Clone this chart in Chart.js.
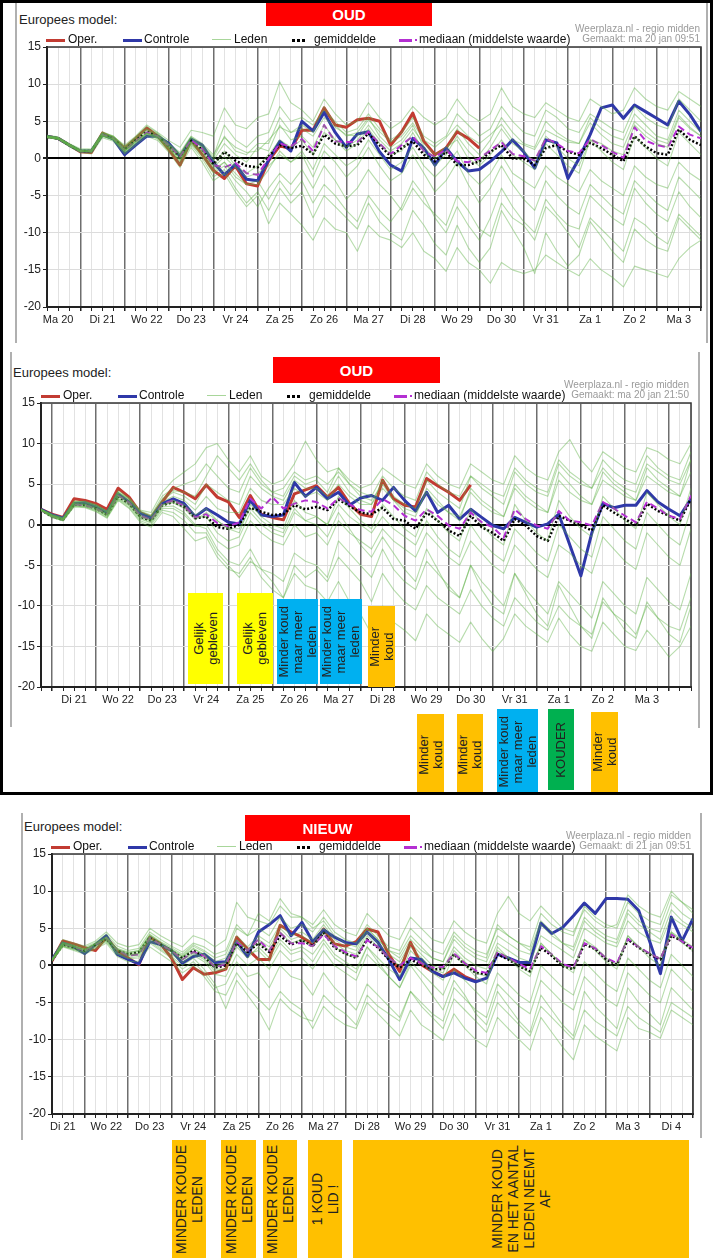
<!DOCTYPE html>
<html>
<head>
<meta charset="utf-8">
<script src="https://cdn.jsdelivr.net/npm/chart.js"></script>
<style>
  body { margin: 0; background: #fff; font-family: Arial, "Liberation Sans", sans-serif; }
  #page { position: relative; width: 716px; height: 1258px; overflow: hidden; background: #fff; }
  .abs { position: absolute; white-space: nowrap; }
  .vline { position: absolute; width: 2px; background: #b0b0b0; }
  .redbox { position: absolute; background: #ff0000; color: #fff; font-weight: bold; font-size: 15px;
            display: flex; align-items: center; justify-content: center; }
  .note { position: absolute; display: flex; align-items: center; justify-content: center; z-index: 5; }
  .note div { writing-mode: vertical-rl; transform: rotate(180deg); text-align: center;
              font-size: 13px; line-height: 14px; color: #222; white-space: nowrap; }
  .note.big div { font-size: 14px; line-height: 16px; }
  #frame { position: absolute; left: 0; top: 0; width: 707px; height: 789px; border: 3px solid #000; z-index: 10; }
</style>
</head>
<body>
<div id="page"><div id="frame"></div></div>
<script>
// ---- chart 1: OUD, ma 20 jan 09:51 (6-hourly, first value Ma 20 06:00) ----
const days1 = ['Ma 20','Di 21','Wo 22','Do 23','Vr 24','Za 25','Zo 26','Ma 27','Di 28','Wo 29','Do 30','Vr 31','Za 1','Zo 2','Ma 3'];
const oper1 = [3.0, 2.7, 1.8, 0.9, 0.8, 3.4, 2.7, 1.4, 2.7, 4.1, 3.0, 1.2, -0.9, 2.5, 0.5, -1.6, -2.7, -1.0, -3.4, -3.7, -0.3, 1.7, 1.3, 3.8, 3.8, 6.8, 4.5, 4.2, 5.2, 5.4, 5.0, 1.8, 3.6, 6.1, 2.3, 0.5, 1.4, 3.6, 2.7, 1.4];
const ctrl1 = [3.0, 2.7, 1.8, 1.0, 1.0, 3.2, 2.6, 0.5, 1.8, 3.0, 3.0, 2.0, 0.3, 2.6, 1.8, -0.5, -2.2, -0.8, -2.8, -3.0, -0.2, 2.3, 1.0, 5.0, 3.7, 6.2, 3.5, 1.5, 3.3, 3.6, 0.9, -0.9, -1.7, 2.7, 1.4, -0.9, 1.4, -0.4, -1.7, -1.5, -0.4, 0.9, 2.5, 0.9, -1.3, 2.5, 2.1, -2.7, 0.0, 3.2, 6.8, 7.2, 5.4, 7.2, 6.3, 5.4, 4.5, 7.7, 5.9, 3.6];
const mean1 = [2.9, 2.7, 1.8, 1.0, 1.0, 3.2, 2.7, 1.2, 2.5, 3.6, 3.0, 1.6, 0.2, 2.4, 1.2, -0.8, 0.9, -0.3, -1.0, -1.2, 0.3, 1.8, 1.4, 1.7, 0.6, 3.2, 2.0, 1.6, 1.8, 3.4, 1.8, 0.3, 1.4, 2.3, 0.5, -0.4, 0.9, -0.9, -0.9, -0.4, 0.9, 1.8, 0.0, 0.0, -0.9, 1.4, 1.8, 0.9, 0.5, 2.1, 1.4, 0.5, -0.4, 3.0, 1.6, 0.7, 0.5, 3.9, 2.5, 1.8];
const median1 = [2.9, 2.7, 1.8, 1.0, 1.0, 3.2, 2.7, 1.1, 2.3, 3.5, 3.0, 1.7, 0.3, 2.5, 1.3, -0.9, -1.2, -0.6, -2.0, -2.2, 0.0, 2.0, 1.6, 2.6, 1.0, 4.5, 2.3, 2.2, 2.2, 3.6, 2.0, 0.6, 1.8, 3.0, 1.0, 0.2, 1.2, -0.4, -0.5, 0.0, 1.1, 2.2, 0.6, 0.3, -0.3, 2.7, 2.0, 1.0, 0.7, 2.6, 1.8, 0.9, 0.1, 4.2, 2.4, 1.8, 1.5, 4.3, 3.2, 2.7];
const m1a = [3.1, 2.9, 2.0, 1.3, 1.2, 3.6, 3.0, 1.6, 2.9, 4.3, 3.4, 2.0, 0.8, 3.0, 2.0, 0.5, 2.8, 1.5, 0.8, 1.0, 2.5, 4.2, 3.5, 4.0, 3.0, 5.5, 4.2, 3.2, 3.0, 5.2, 3.6, 2.2, 3.0, 4.8, 2.5, 1.5, 2.8, 4.5, 3.0, 2.0, 3.2, 4.6, 2.5, 1.8, 1.2, 3.8, 3.0, 2.2, 2.0, 4.8, 3.2, 2.0, 1.5, 5.0, 3.6, 2.5, 2.0, 5.8, 4.2, 3.0];
const m1b = [2.8, 2.6, 1.7, 1.0, 1.1, 3.4, 2.9, 1.8, 3.0, 4.5, 3.5, 2.4, 1.5, 3.8, 3.5, 3.0, 6.8, 4.5, 4.0, 5.5, 6.0, 10.3, 7.5, 6.5, 5.0, 8.0, 6.0, 4.5, 5.0, 7.5, 5.5, 4.0, 5.0, 7.0, 5.5, 4.5, 5.5, 8.0, 6.0, 5.0, 6.0, 9.5, 7.0, 6.0, 5.5, 7.5, 6.5, 5.5, 5.0, 8.0, 7.0, 6.0, 6.5, 9.5, 8.0, 7.0, 6.5, 9.0, 8.0, 7.0];
const m1c = [2.9, 2.6, 1.6, 0.8, 0.6, 2.8, 2.3, 0.6, 1.8, 3.0, 2.4, 0.8, -1.2, 1.5, -0.5, -3.0, -2.0, -4.5, -6.5, -5.0, -8.8, -6.0, -7.5, -9.0, -11.0, -8.0, -9.5, -10.0, -12.5, -9.0, -10.5, -11.0, -12.0, -10.0, -12.5, -13.5, -15.2, -12.0, -14.0, -15.0, -16.8, -14.0, -15.0, -15.5, -15.0, -13.0, -14.0, -15.0, -15.8, -13.5, -15.0, -16.0, -17.3, -14.5, -15.0, -15.5, -16.0, -13.5, -12.0, -11.0];
const m1d = [3.0, 2.8, 1.9, 1.1, 0.9, 3.0, 2.5, 0.9, 2.1, 3.3, 2.8, 1.3, -0.5, 2.0, 0.3, -2.0, -1.0, -3.0, -4.5, -6.5, -4.0, -2.0, -3.5, -1.5, -4.0, -1.0, -3.0, -5.5, -4.0, -1.5, -3.5, -5.0, -7.0, -4.0, -6.0, -7.5, -9.0, -5.0, -7.0, -9.5, -10.5, -6.0, -8.0, -9.0, -11.0, -6.5, -8.0, -10.0, -12.0, -8.0, -9.5, -11.0, -12.5, -8.0, -9.0, -10.5, -11.5, -7.5, -9.0, -10.5];
const m1e = [2.8, 2.6, 1.7, 0.9, 0.9, 3.1, 2.6, 1.0, 2.3, 3.4, 2.9, 1.5, 0.0, 2.2, 1.0, -1.2, 0.2, -1.2, -2.5, -2.0, -1.0, 0.5, -0.5, 1.0, -1.5, 2.0, 0.5, -1.0, 0.0, 2.5, 0.5, -1.5, -0.5, 1.5, -1.0, -2.5, -1.0, 1.0, -2.0, -3.5, -2.0, 0.5, -2.0, -3.0, -4.0, -1.0, -2.5, -3.5, -4.5, -1.5, -3.0, -4.0, -5.0, -1.0, -2.5, -3.5, -4.0, -0.5, -2.0, -3.0];
const m1f = [2.9, 2.8, 1.9, 1.2, 1.3, 3.5, 3.0, 1.5, 2.8, 4.0, 3.3, 1.9, 0.6, 2.9, 1.8, 0.2, 4.5, 2.5, 1.5, 3.0, 3.5, 7.0, 5.0, 5.5, 4.5, 6.5, 5.0, 3.5, 4.0, 6.0, 4.0, 2.5, 3.5, 5.5, 3.0, 2.0, 3.0, 6.0, 4.5, 3.0, 4.0, 7.0, 5.0, 3.5, 3.0, 6.5, 5.5, 4.0, 3.5, 6.0, 5.0, 4.0, 3.5, 7.0, 5.5, 4.5, 4.0, 8.0, 6.5, 5.0];
const m1g = [3.0, 2.7, 1.8, 1.0, 0.8, 3.0, 2.6, 1.0, 2.2, 3.2, 2.7, 1.2, -0.3, 2.0, 0.5, -1.8, -0.5, -2.5, -3.5, -3.0, -5.5, -3.0, -5.0, -3.0, -6.0, -3.5, -5.0, -7.0, -8.5, -5.0, -7.0, -8.5, -6.5, -3.0, -5.0, -8.0, -10.0, -6.5, -9.0, -11.0, -8.0, -4.0, -6.5, -8.5, -10.0, -5.5, -7.5, -9.0, -9.5, -5.0, -6.5, -8.0, -9.0, -4.0, -6.0, -7.5, -8.5, -4.5, -6.5, -8.0];
const m1h = [2.9, 2.7, 1.8, 1.0, 1.0, 3.3, 2.8, 1.3, 2.6, 3.8, 3.1, 1.7, 0.4, 2.7, 1.5, -0.3, 2.0, 0.5, -0.5, 1.5, 1.0, 4.5, 2.5, 3.0, 1.5, 4.5, 2.5, 1.0, 2.0, 4.0, 2.0, 0.5, 1.0, 3.5, 1.0, -1.0, 0.5, 3.0, 1.0, -0.5, 1.5, 4.0, 2.0, 1.0, -0.5, 3.0, 1.5, 0.0, -1.0, 2.5, 1.0, -0.5, -1.5, 3.0, 1.5, 0.0, -1.0, 3.5, 2.0, 0.5];
const m1i = [3.0, 2.8, 1.9, 1.1, 1.0, 3.1, 2.5, 0.8, 2.0, 3.3, 2.6, 1.0, -0.8, 1.8, 0.0, -2.5, -1.5, -4.0, -6.0, -4.5, -7.0, -4.0, -6.0, -4.5, -8.0, -5.0, -6.5, -8.0, -9.5, -6.0, -8.5, -10.0, -11.0, -7.0, -9.0, -11.5, -13.0, -9.0, -12.0, -14.0, -12.0, -7.0, -9.5, -12.0, -15.5, -10.0, -12.5, -14.5, -13.0, -8.5, -10.5, -12.5, -14.0, -9.5, -11.0, -12.0, -12.5, -8.0, -9.5, -11.0];
const m1j = [2.8, 2.6, 1.7, 0.9, 1.0, 3.2, 2.7, 1.2, 2.4, 3.5, 3.0, 1.5, 0.1, 2.3, 1.1, -1.0, 1.0, -1.0, -2.0, -1.0, 0.5, 2.5, 1.5, 2.5, 0.5, 3.5, 2.5, 1.5, 2.5, 4.5, 2.5, 1.0, 2.0, 4.0, 2.0, 0.5, 1.5, 2.5, 0.0, -1.0, 0.5, 2.5, 0.5, -0.5, -1.5, 2.0, 0.5, -1.0, -2.0, 2.5, 2.0, 1.0, 0.5, 4.5, 3.0, 2.0, 1.5, 5.5, 4.0, 3.0];
const m1k = [3.0, 2.7, 1.8, 1.0, 0.9, 3.1, 2.6, 1.1, 2.3, 3.4, 2.9, 1.4, -0.2, 2.1, 0.8, -1.5, -0.5, -2.0, -3.5, -3.5, -1.5, 1.0, -0.5, 0.5, -2.5, 1.0, -0.5, -2.5, -1.0, 1.5, -1.0, -3.0, -2.0, 0.5, -2.0, -4.5, -3.0, -0.5, -3.5, -6.0, -4.0, -1.0, -3.5, -5.5, -7.0, -3.0, -5.0, -6.5, -7.5, -3.5, -5.0, -6.5, -7.5, -3.0, -4.5, -6.0, -7.0, -2.5, -4.0, -5.5];
const m1l = [2.9, 2.8, 1.9, 1.1, 1.1, 3.4, 2.9, 1.4, 2.7, 3.9, 3.2, 1.8, 0.5, 2.8, 1.6, 0.0, 3.0, 1.0, 0.5, 2.0, 2.0, 5.5, 3.5, 4.5, 3.5, 7.0, 4.5, 3.0, 3.5, 5.5, 3.0, 1.5, 2.5, 4.5, 1.5, 0.0, 1.0, 4.0, 2.0, 0.5, 2.5, 5.5, 3.5, 2.0, 1.5, 5.0, 3.5, 2.5, 2.0, 5.5, 4.0, 3.0, 2.5, 6.0, 4.5, 3.0, 2.5, 6.5, 5.0, 3.5];

// ---- chart 2: OUD, ma 20 jan 21:50 (first value Ma 20 18:00) ----
const days2 = ['Di 21','Wo 22','Do 23','Vr 24','Za 25','Zo 26','Ma 27','Di 28','Wo 29','Do 30','Vr 31','Za 1','Zo 2','Ma 3'];
const oper2 = [1.9, 1.3, 0.9, 3.2, 3.0, 2.6, 1.9, 4.5, 3.4, 1.5, 0.9, 2.8, 4.6, 4.0, 3.2, 4.9, 3.4, 2.8, 0.9, 3.6, 1.3, 0.9, 0.6, 3.8, 4.3, 4.8, 3.4, 4.6, 2.6, 1.3, 1.0, 5.5, 3.2, 2.4, 2.2, 5.7, 4.8, 4.0, 3.0, 4.9];
const ctrl2 = [1.9, 1.2, 0.8, 2.6, 2.7, 2.2, 1.5, 3.8, 2.8, 1.4, 0.8, 2.6, 3.2, 2.6, 1.0, 2.0, 1.2, 0.3, 0.1, 3.0, 1.2, 1.0, 1.2, 5.2, 3.5, 4.6, 3.2, 4.0, 2.4, 3.3, 3.6, 3.0, 4.6, 3.0, 1.7, 4.0, 1.5, 2.4, 0.7, 1.9, 0.9, -0.1, -0.5, 0.9, 0.3, -0.3, 0.1, 1.3, -2.5, -6.3, -1.0, 2.6, 2.1, 2.4, 2.4, 4.2, 2.8, 1.9, 1.1, 3.2];
const mean2 = [1.8, 1.0, 0.6, 2.5, 2.4, 2.0, 1.2, 3.5, 2.6, 1.0, 0.5, 2.4, 2.8, 2.2, 0.8, 1.0, -0.3, -0.5, 0.0, 2.1, 1.6, 1.2, 1.3, 2.4, 1.9, 2.2, 1.8, 3.1, 2.3, 1.5, 1.3, 2.1, 0.7, 0.5, -0.5, 1.5, 0.5, -0.7, -1.4, 1.1, -0.3, -1.0, -2.0, 0.7, -0.1, -1.4, -2.0, 1.1, 0.5, -0.1, -0.7, 2.4, 1.5, 0.7, -0.1, 2.6, 1.7, 1.1, 0.5, 3.2];
const median2 = [1.8, 1.0, 0.6, 2.5, 2.4, 2.0, 1.3, 3.6, 2.7, 1.1, 0.6, 2.5, 3.0, 2.3, 0.9, 1.3, 0.2, -0.2, 0.3, 3.2, 2.0, 3.4, 2.0, 2.6, 3.0, 2.8, 2.0, 3.3, 2.5, 1.8, 1.6, 3.2, 2.4, 1.1, 0.5, 1.9, 1.1, -0.1, -0.5, 1.5, 0.3, -0.3, -1.6, 1.9, 0.7, -0.1, -0.5, 1.7, 0.5, 0.3, -0.1, 2.8, 2.0, 1.1, 0.3, 2.8, 2.0, 1.1, 0.7, 3.6];
const m2a = [1.9, 1.2, 0.8, 2.8, 2.8, 2.4, 1.6, 4.0, 3.2, 1.8, 1.5, 4.0, 5.5, 6.5, 7.5, 9.5, 10.0, 8.0, 6.5, 8.5, 6.0, 5.0, 5.5, 7.5, 10.3, 8.0, 6.5, 7.0, 5.5, 4.5, 5.0, 7.0, 6.0, 5.0, 4.5, 7.5, 6.0, 5.0, 4.5, 7.5, 6.5, 5.5, 5.0, 8.5, 7.0, 6.0, 5.5, 9.0, 10.5, 8.0, 6.5, 9.0, 8.0, 7.0, 6.5, 9.5, 9.0, 8.0, 7.5, 10.0];
const m2b = [1.8, 0.9, 0.5, 2.2, 2.1, 1.6, 0.8, 3.0, 2.0, 0.3, -0.3, 1.5, 1.0, -0.5, -2.0, -1.5, -4.0, -5.5, -6.0, -4.0, -6.5, -8.0, -9.0, -6.0, -7.5, -8.0, -9.5, -7.0, -9.5, -11.0, -13.5, -10.0, -12.0, -13.0, -14.3, -11.0, -12.5, -13.5, -14.5, -12.0, -14.0, -15.6, -14.0, -11.0, -12.5, -13.5, -14.5, -11.5, -13.5, -15.0, -15.6, -12.0, -13.5, -15.0, -15.5, -13.0, -14.5, -16.3, -15.0, -12.5];
const m2c = [1.9, 1.1, 0.7, 2.7, 2.6, 2.2, 1.4, 3.8, 2.9, 1.3, 0.8, 2.8, 3.5, 3.0, 1.8, 3.5, 2.0, 1.5, 1.5, 4.5, 3.0, 2.5, 2.5, 4.5, 3.5, 4.0, 3.0, 5.0, 3.5, 2.5, 2.5, 4.5, 3.0, 2.0, 1.5, 4.0, 2.5, 1.5, 1.0, 4.0, 2.5, 1.5, 1.0, 4.5, 3.0, 2.0, 1.5, 5.5, 4.0, 3.0, 2.5, 5.5, 4.5, 3.5, 3.0, 6.0, 5.0, 4.0, 3.5, 6.5];
const m2d = [1.7, 0.9, 0.5, 2.3, 2.2, 1.8, 1.0, 3.2, 2.3, 0.7, 0.2, 2.0, 2.0, 1.2, -0.2, 0.0, -2.0, -3.0, -2.5, 0.5, -1.0, -2.0, -2.5, 0.0, -1.5, -1.0, -2.5, 0.5, -1.0, -2.0, -3.0, -0.5, -2.0, -3.0, -4.0, -1.0, -2.5, -4.0, -5.0, -2.0, -3.5, -5.0, -6.0, -2.5, -4.0, -5.5, -6.5, -2.5, -3.5, -5.0, -6.0, -1.5, -3.0, -4.5, -5.5, -1.0, -2.5, -4.0, -5.0, -0.5];
const m2e = [1.9, 1.2, 0.8, 2.9, 2.9, 2.5, 1.7, 4.2, 3.3, 1.7, 1.2, 3.5, 4.5, 5.0, 5.5, 7.5, 6.0, 4.5, 4.0, 7.0, 5.0, 4.0, 4.5, 6.5, 5.5, 6.0, 5.0, 6.5, 5.0, 4.0, 3.5, 6.0, 4.5, 3.5, 3.0, 6.5, 5.0, 4.0, 3.5, 6.0, 4.5, 3.5, 2.5, 6.5, 5.0, 4.0, 3.5, 7.5, 6.0, 5.0, 4.5, 8.0, 6.5, 5.5, 5.0, 8.5, 7.0, 6.0, 5.5, 9.0];
const m2f = [1.8, 1.0, 0.6, 2.4, 2.3, 1.9, 1.1, 3.3, 2.4, 0.8, 0.3, 2.2, 2.3, 1.5, 0.0, -0.5, -3.0, -4.5, -5.0, -3.0, -5.5, -7.0, -9.0, -5.0, -6.5, -5.5, -7.0, -4.0, -5.5, -7.0, -9.5, -6.0, -8.0, -9.5, -10.5, -7.5, -9.0, -10.0, -11.0, -8.0, -10.0, -11.5, -12.5, -9.0, -10.5, -12.0, -13.0, -10.0, -11.5, -12.5, -13.5, -9.5, -11.0, -12.0, -13.5, -10.0, -11.5, -12.5, -13.0, -9.0];
const m2g = [1.8, 1.1, 0.6, 2.6, 2.5, 2.0, 1.2, 3.6, 2.6, 1.0, 0.5, 2.4, 2.7, 2.0, 0.6, 1.5, 0.5, -0.5, -1.0, 2.5, 1.0, 0.0, -0.5, 3.0, 1.5, 1.0, 0.0, 3.5, 2.0, 0.5, -0.5, 2.5, 1.0, -0.5, -1.5, 2.0, 0.5, -1.0, -2.0, 2.0, 0.0, -1.5, -2.5, 2.5, 0.5, -1.0, -2.0, 3.0, 1.0, -0.5, -1.5, 3.5, 2.0, 0.5, -0.5, 4.0, 2.5, 1.0, 0.0, 4.5];
const m2h = [1.8, 1.0, 0.5, 2.3, 2.2, 1.7, 0.9, 3.1, 2.1, 0.5, 0.0, 1.8, 1.5, 0.5, -1.0, -1.0, -3.5, -5.0, -6.5, -4.5, -5.5, -6.0, -7.0, -3.5, -4.5, -5.0, -6.5, -2.0, -3.5, -5.0, -6.5, -3.0, -5.5, -7.0, -8.0, -4.5, -6.0, -7.5, -9.0, -5.0, -7.0, -8.5, -10.0, -6.0, -8.0, -9.5, -11.0, -7.0, -8.5, -10.0, -11.5, -7.0, -8.5, -10.0, -11.0, -6.5, -8.0, -9.5, -10.5, -6.0];
const m2i = [1.9, 1.2, 0.7, 2.7, 2.7, 2.3, 1.5, 3.9, 3.0, 1.5, 1.0, 3.0, 4.0, 3.5, 2.5, 5.0, 4.0, 3.0, 2.5, 6.0, 4.5, 3.5, 3.0, 5.5, 4.5, 4.5, 3.5, 6.0, 4.0, 3.0, 2.5, 5.5, 3.5, 2.5, 2.0, 5.5, 4.0, 3.0, 2.0, 6.0, 5.0, 4.0, 3.5, 7.0, 5.5, 4.5, 4.0, 8.0, 6.5, 5.5, 4.5, 7.0, 5.5, 4.5, 4.0, 7.5, 6.5, 5.5, 5.0, 8.0];
const m2j = [1.8, 1.0, 0.6, 2.5, 2.4, 2.0, 1.2, 3.5, 2.6, 1.0, 0.5, 2.4, 2.8, 2.2, 0.9, 1.0, -1.0, -2.0, -1.5, 1.5, 0.0, -1.0, -1.5, 1.5, 0.5, 1.0, 0.0, 2.5, 1.0, 0.0, -1.0, 1.0, -0.5, -1.5, -2.5, 0.5, -1.5, -3.0, -4.0, 0.0, -2.0, -3.5, -4.5, -0.5, -2.0, -3.5, -4.5, 0.0, -1.5, -3.0, -4.0, 1.0, -0.5, -2.0, -3.0, 1.5, 0.0, -1.5, -2.5, 2.0];
const m2k = [1.8, 1.1, 0.7, 2.6, 2.5, 2.1, 1.3, 3.6, 2.7, 1.1, 0.6, 2.5, 3.0, 2.5, 1.2, 2.0, 0.5, -0.5, -0.5, 2.0, 0.5, -0.5, -1.0, 2.0, 0.5, 0.0, -1.5, 1.5, -0.5, -2.5, -4.0, -1.5, -3.5, -5.5, -7.0, -3.0, -5.5, -8.0, -9.0, -5.0, -8.0, -10.0, -11.0, -6.0, -8.5, -11.0, -12.5, -7.5, -10.0, -12.5, -14.0, -9.0, -11.0, -13.0, -14.0, -9.5, -11.5, -13.5, -14.5, -10.0];
const m2l = [1.9, 1.3, 0.9, 2.9, 2.8, 2.3, 1.6, 4.0, 3.1, 1.6, 1.1, 3.2, 4.2, 4.0, 3.5, 6.0, 8.5, 7.0, 5.5, 7.5, 5.5, 4.0, 3.5, 6.0, 5.0, 5.5, 4.0, 7.0, 5.0, 3.5, 3.0, 5.0, 3.0, 1.5, 1.0, 4.5, 3.0, 1.5, 0.5, 4.5, 3.0, 2.0, 1.0, 5.0, 3.5, 2.5, 1.5, 6.5, 5.0, 3.5, 2.5, 6.5, 5.0, 4.0, 3.0, 7.0, 5.5, 4.5, 3.5, 8.0];

// ---- chart 3: NIEUW, di 21 jan 09:51 (first value Di 21 06:00) ----
const days3 = ['Di 21','Wo 22','Do 23','Vr 24','Za 25','Zo 26','Ma 27','Di 28','Wo 29','Do 30','Vr 31','Za 1','Zo 2','Ma 3','Di 4'];
const oper3 = [0.6, 3.3, 2.9, 2.4, 2.0, 3.8, 2.0, 1.0, 0.1, 3.8, 2.9, 1.0, -1.9, -0.3, -1.2, -1.0, -0.5, 3.8, 2.2, 0.8, 0.8, 5.4, 4.5, 3.8, 2.9, 4.9, 2.9, 2.6, 3.2, 4.9, 4.5, 1.5, -0.8, 3.1, 0.1, -0.8, -1.5, -0.5, -1.5, -2.1];
const ctrl3 = [0.8, 3.0, 2.5, 1.6, 2.8, 4.0, 1.5, 0.8, 0.2, 3.2, 2.8, 2.0, 0.3, 1.2, 1.5, 0.4, 0.5, 3.2, 1.2, 4.5, 5.5, 6.7, 4.0, 5.8, 3.2, 4.8, 3.8, 3.1, 2.9, 4.5, 3.1, 0.8, -1.9, 1.0, 0.8, -0.8, -1.5, -1.0, -1.7, -2.2, -1.7, 1.5, 1.0, 0.4, 0.4, 5.7, 4.3, 5.1, 6.7, 8.4, 7.0, 9.0, 9.0, 8.9, 7.4, 3.3, -1.1, 6.5, 3.3, 6.3];
const mean3 = [0.7, 2.8, 2.4, 2.0, 2.8, 3.6, 2.0, 1.5, 1.8, 3.8, 2.8, 2.0, 1.0, 2.0, 1.2, -0.3, 0.0, 3.0, 1.8, 3.0, 1.8, 4.0, 2.8, 3.4, 2.6, 4.4, 2.4, 1.6, 1.0, 3.5, 2.4, 0.8, -0.3, 0.8, 0.1, -0.5, -0.5, 1.5, 0.1, -1.0, -1.2, 1.5, 0.8, -0.1, -0.8, 2.4, 1.3, -0.1, -0.5, 2.9, 2.2, 0.8, 0.1, 3.5, 2.4, 1.5, 0.8, 4.0, 3.3, 2.0];
const median3 = [0.7, 2.9, 2.5, 2.0, 2.8, 3.7, 2.1, 1.3, 1.5, 3.7, 2.8, 2.0, 0.8, 1.8, 1.3, -0.2, 0.2, 3.2, 2.0, 3.5, 2.0, 4.4, 3.0, 3.0, 2.6, 4.2, 2.6, 1.8, 1.2, 3.4, 2.5, 1.0, 0.0, 1.0, 0.3, -0.3, -0.2, 1.6, 0.3, -0.7, -1.0, 1.8, 1.0, 0.2, -0.5, 2.6, 1.5, 0.2, -0.3, 3.0, 2.3, 1.0, 0.3, 3.6, 2.5, 1.6, 0.9, 4.2, 3.2, 2.4];
const m3a = [0.8, 3.5, 3.0, 2.6, 3.3, 4.5, 3.0, 2.5, 2.8, 5.0, 4.0, 3.2, 2.5, 4.0, 3.5, 2.5, 3.5, 8.5, 6.5, 6.0, 5.5, 8.0, 6.5, 6.5, 5.5, 7.5, 5.5, 4.5, 4.0, 7.0, 5.5, 4.0, 3.5, 6.5, 5.0, 3.5, 3.0, 6.0, 4.5, 3.5, 3.0, 7.0, 9.3, 7.0, 6.0, 8.0, 6.5, 5.0, 4.5, 7.5, 6.0, 5.0, 5.5, 9.5, 8.0, 7.0, 6.5, 10.0, 8.5, 7.5];
const m3b = [0.6, 2.5, 2.0, 1.5, 2.2, 3.0, 1.2, 0.5, 0.6, 2.5, 1.5, 0.5, -1.0, 0.0, -1.5, -3.5, -4.0, -1.0, -3.0, -4.5, -6.0, -3.5, -5.0, -6.0, -8.5, -5.5, -7.0, -8.0, -8.5, -5.0, -6.5, -8.0, -9.5, -6.0, -8.0, -9.0, -10.1, -6.5, -8.5, -10.0, -11.0, -7.0, -8.5, -10.0, -11.4, -7.0, -9.0, -11.0, -12.7, -8.0, -9.5, -10.5, -11.5, -7.0, -8.5, -9.0, -9.8, -6.0, -7.0, -8.0];
const m3c = [0.7, 2.9, 2.5, 2.1, 2.9, 3.8, 2.2, 1.6, 1.9, 4.0, 3.0, 2.1, 1.2, 2.3, 1.5, 0.0, 0.5, 3.5, 2.0, 3.0, 2.0, 4.5, 3.0, 3.5, 2.5, 4.5, 2.5, 1.5, 1.0, 4.0, 2.5, 1.0, 0.0, 2.5, 1.0, -0.5, -1.0, 2.0, 0.5, -1.0, -1.5, 2.0, 1.0, 0.0, -1.0, 3.0, 1.5, 0.0, -0.5, 3.5, 2.5, 1.0, 0.0, 4.0, 2.5, 1.5, 1.0, 4.5, 3.5, 2.5];
const m3d = [0.7, 2.6, 2.2, 1.8, 2.5, 3.3, 1.6, 1.0, 1.2, 3.2, 2.2, 1.2, 0.0, 1.0, -0.5, -2.5, -5.8, -2.0, -4.0, -6.0, -8.7, -4.5, -6.0, -7.0, -7.5, -4.0, -5.5, -6.5, -8.0, -4.0, -5.5, -6.5, -7.5, -3.5, -5.0, -6.5, -7.5, -3.0, -4.5, -6.0, -7.0, -2.5, -4.0, -5.5, -6.5, -2.0, -3.5, -5.0, -6.0, -1.5, -3.0, -4.5, -5.5, -1.0, -2.5, -4.0, -5.0, -0.5, -2.0, -3.5];
const m3e = [0.8, 3.2, 2.8, 2.4, 3.1, 4.2, 2.6, 2.0, 2.3, 4.5, 3.5, 2.6, 1.8, 3.0, 2.5, 1.5, 2.0, 5.5, 4.0, 5.0, 4.0, 6.5, 5.0, 5.5, 4.5, 6.5, 4.5, 3.5, 3.0, 5.5, 4.0, 2.5, 2.0, 5.0, 3.5, 2.0, 1.5, 4.5, 3.0, 2.0, 1.5, 5.0, 4.0, 3.0, 2.0, 6.0, 4.5, 3.0, 2.5, 6.5, 5.0, 4.0, 3.5, 7.5, 6.0, 5.0, 4.5, 8.5, 7.0, 6.0];
const m3f = [0.6, 2.7, 2.2, 1.8, 2.6, 3.4, 1.7, 1.2, 1.4, 3.4, 2.4, 1.5, 0.4, 1.4, 0.5, -1.2, -1.5, 1.5, 0.0, 1.0, -0.5, 2.0, 0.5, 1.0, -0.5, 2.0, 0.0, -1.0, -2.0, 1.5, 0.0, -1.5, -3.0, 0.5, -1.0, -2.5, -4.0, -0.5, -2.0, -3.5, -5.0, -1.0, -2.5, -4.0, -5.0, 0.0, -1.5, -3.0, -4.0, 0.5, -1.0, -2.5, -3.5, 1.0, -0.5, -2.0, -3.0, 1.5, 0.0, -1.5];
const m3g = [0.7, 3.0, 2.6, 2.2, 3.0, 3.9, 2.3, 1.8, 2.0, 4.2, 3.2, 2.4, 1.5, 2.8, 2.0, 1.0, 1.5, 5.0, 4.0, 7.0, 6.0, 9.0, 7.0, 6.5, 5.0, 6.0, 4.0, 3.0, 2.5, 5.0, 3.5, 2.0, 1.5, 4.0, 2.5, 1.0, 0.5, 3.5, 2.0, 1.0, 0.5, 4.0, 3.0, 2.0, 1.5, 5.5, 4.0, 3.0, 2.0, 6.0, 4.5, 3.5, 3.0, 7.0, 5.5, 4.5, 3.5, 7.5, 6.0, 5.0];
const m3h = [0.7, 2.8, 2.4, 2.0, 2.7, 3.6, 2.0, 1.4, 1.6, 3.6, 2.7, 1.8, 0.8, 1.8, 1.0, -0.5, -0.5, 2.5, 1.0, 2.5, 1.0, 3.5, 2.0, 2.5, 1.5, 3.5, 1.5, 0.5, -0.5, 2.5, 0.5, -1.5, -3.0, 0.0, -2.0, -4.0, -6.0, -2.0, -4.0, -6.5, -8.0, -3.5, -5.5, -7.5, -9.0, -4.0, -6.0, -8.0, -9.5, -3.5, -5.5, -7.0, -8.5, -3.0, -5.0, -6.5, -8.0, -3.0, -4.5, -6.0];
const m3i = [0.8, 3.1, 2.7, 2.2, 2.9, 3.7, 2.1, 1.5, 1.7, 3.9, 2.9, 2.0, 1.1, 2.2, 1.4, -0.2, 0.3, 3.3, 2.2, 3.5, 2.5, 5.0, 3.5, 4.0, 3.0, 5.0, 3.0, 2.0, 1.5, 4.5, 3.0, 1.5, 0.5, 3.0, 1.5, 0.0, -0.5, 2.5, 1.0, 0.0, -0.5, 3.0, 2.0, 1.0, 0.5, 4.0, 3.0, 2.0, 1.0, 5.0, 4.0, 3.0, 2.5, 6.0, 4.5, 3.5, 3.0, 6.5, 5.5, 4.5];
const m3j = [0.6, 2.6, 2.1, 1.7, 2.4, 3.2, 1.5, 0.9, 1.0, 3.0, 2.0, 1.0, -0.5, 0.5, -1.0, -3.0, -2.5, 0.5, -1.5, -1.0, -3.0, 0.0, -1.5, -2.0, -4.0, -1.0, -3.0, -4.5, -6.0, -2.5, -4.0, -5.5, -7.0, -3.5, -5.5, -7.0, -8.5, -4.5, -6.0, -7.5, -9.0, -5.0, -6.5, -8.0, -9.5, -5.5, -7.0, -8.5, -10.0, -6.0, -7.5, -8.5, -9.5, -5.5, -7.0, -8.0, -9.0, -5.0, -6.0, -7.0];
const m3k = [0.7, 2.9, 2.5, 2.0, 2.8, 3.6, 1.9, 1.3, 1.6, 3.7, 2.7, 1.8, 0.7, 1.6, 0.8, -0.8, -0.5, 2.8, 1.5, 2.0, 0.5, 3.0, 1.5, 2.0, 0.5, 3.0, 1.0, 0.0, -1.0, 2.5, 1.0, -0.5, -1.5, 2.0, 0.5, -1.0, -2.0, 1.5, 0.0, -1.5, -2.5, 2.5, 1.0, -0.5, -1.5, 3.0, 1.5, 0.0, -1.0, 3.5, 2.0, 0.5, -0.5, 4.0, 2.5, 1.0, 0.0, 4.5, 3.0, 2.0];
const m3l = [0.8, 3.0, 2.6, 2.1, 2.9, 3.8, 2.2, 1.7, 2.0, 4.1, 3.1, 2.2, 1.3, 2.6, 1.8, 0.5, 1.0, 4.0, 2.5, 4.0, 3.0, 5.5, 4.0, 4.5, 3.5, 5.5, 3.5, 2.5, 2.0, 5.0, 3.5, 2.0, 1.0, 3.5, 2.0, 1.0, 0.5, 4.0, 2.5, 1.5, 1.0, 5.5, 4.0, 3.0, 2.5, 7.0, 5.5, 4.5, 4.0, 8.0, 6.5, 5.5, 5.0, 8.5, 7.0, 6.0, 5.5, 9.5, 8.5, 7.0];

const page = document.getElementById('page');

// top and right edge of the plot box
const plotFrame = {
  id: 'plotFrame',
  beforeDatasetsDraw(chart) {
    const a = chart.chartArea, g = chart.ctx;
    g.save();
    g.strokeStyle = '#333';
    g.lineWidth = 1.5;
    g.beginPath();
    g.moveTo(a.left, a.top);
    g.lineTo(a.right, a.top);
    g.lineTo(a.right, a.bottom);
    g.stroke();
    g.restore();
  }
};

function addDiv(cls, css, html) {
  const d = document.createElement('div');
  d.className = cls;
  d.style.cssText = css;
  if (html !== undefined) d.innerHTML = html;
  page.appendChild(d);
  return d;
}

function makeChart(c) {
  const a = c.area;
  const cv = document.createElement('canvas');
  cv.width = a.r - a.l + 58;
  cv.height = a.b - a.t + 38;
  cv.style.cssText = `position:absolute;left:${a.l - 50}px;top:${a.t - 12}px;`;
  page.appendChild(cv);

  const pts = arr => arr.map((v, i) => ({ x: i, y: v }));
  const sets = c.members.map(m => ({ data: pts(m), borderColor: 'rgba(96,178,72,0.45)', borderWidth: 1.1 }));
  sets.push({ data: pts(c.median), borderColor: '#B42FD2', borderWidth: 2, borderDash: [7, 4] });
  sets.push({ data: pts(c.mean), borderColor: '#000', borderWidth: 2.5, borderDash: [2, 2] });
  sets.push({ data: pts(c.ctrl), borderColor: '#2F38A8', borderWidth: 3 });
  sets.push({ data: pts(c.oper), borderColor: '#C23B32', borderWidth: 3 });

  const midnight = v => ((v - c.midnight) % 4 + 4) % 4 === 0;

  new Chart(cv, {
    type: 'line',
    data: { datasets: sets },
    plugins: [plotFrame],
    options: {
      responsive: false,
      animation: false,
      elements: { line: { tension: 0, borderJoinStyle: 'round' }, point: { radius: 0 } },
      plugins: { legend: { display: false }, tooltip: { enabled: false } },
      layout: { padding: { top: 12, right: 8, left: 0, bottom: 0 } },
      scales: {
        x: {
          type: 'linear', min: 0, max: 59,
          afterFit: s => { s.height = 26; },
          afterBuildTicks: s => { s.ticks = Array.from({ length: 60 }, (_, i) => ({ value: i })); },
          ticks: {
            autoSkip: false, maxRotation: 0, padding: 2, color: '#222',
            font: { size: 11, family: 'Arial' },
            callback: v => (v >= c.noon && (v - c.noon) % 4 === 0) ? (c.days[(v - c.noon) / 4] || '') : ''
          },
          grid: {
            color: ctx => midnight(ctx.tick.value) ? '#6e6e6e' : '#e2e2e2',
            lineWidth: ctx => midnight(ctx.tick.value) ? 1.5 : 1,
            tickLength: 4, tickColor: '#222'
          },
          border: { color: '#222', width: 2 }
        },
        y: {
          min: -20, max: 15,
          afterFit: s => { s.width = 50; },
          ticks: { stepSize: 5, padding: 2, color: '#222', font: { size: 12, family: 'Arial' } },
          grid: {
            color: ctx => ctx.tick.value === 0 ? '#000' : '#dcdcdc',
            lineWidth: ctx => ctx.tick.value === 0 ? 2 : 1,
            tickLength: 4, tickColor: '#222'
          },
          border: { color: '#222', width: 2 }
        }
      }
    }
  });

  // header: title, red label, legend, source
  addDiv('abs', `left:${c.title[0]}px;top:${c.title[1] - 8}px;font-size:13px;color:#222;`, 'Europees model:');
  const rb = c.red;
  addDiv('redbox', `left:${rb.l}px;top:${rb.t}px;width:${rb.r - rb.l}px;height:${rb.b - rb.t}px;`, c.redText);

  const [lx, ly] = c.legend;
  const samples = [
    [0, 19, 'border-top:3px solid #C23B32'],
    [77, 19, 'border-top:3px solid #2F38A8'],
    [166, 19, 'border-top:1px solid #a8d69a'],
    [246, 13, 'border-top:3px dotted #000'],
    [353, 13, 'border-top:3px solid #B42FD2'],
    [369, 2, 'border-top:2px solid #B42FD2']
  ];
  samples.forEach(s => addDiv('abs', `left:${lx + s[0]}px;top:${ly - 1}px;width:${s[1]}px;height:0;${s[2]}`));
  const texts = [[22, 'Oper.'], [98, 'Controle'], [188, 'Leden'], [268, 'gemiddelde'], [373, 'mediaan (middelste waarde)']];
  texts.forEach(t => addDiv('abs', `left:${lx + t[0]}px;top:${ly - 8}px;font-size:12px;line-height:15px;color:#111;`, t[1]));

  const [sr, sy] = c.source;
  addDiv('abs', `right:${716 - sr}px;top:${sy - 6}px;font-size:10px;line-height:10px;color:#9a9a9a;text-align:right;`, 'Weerplaza.nl - regio midden');
  addDiv('abs', `right:${716 - sr}px;top:${sy + 4}px;font-size:10px;line-height:10px;color:#9a9a9a;text-align:right;`, c.made);
}

makeChart({
  area: { l: 47, t: 47, r: 701, b: 307 }, midnight: 3, noon: 1, days: days1,
  oper: oper1, ctrl: ctrl1, mean: mean1, median: median1,
  members: [m1a, m1b, m1c, m1d, m1e, m1f, m1g, m1h, m1i, m1j, m1k, m1l],
  title: [19, 20], red: { l: 266, t: 3, r: 432, b: 26 }, redText: 'OUD',
  legend: [46, 40], source: [700, 30], made: 'Gemaakt: ma 20 jan 09:51'
});
makeChart({
  area: { l: 41, t: 403, r: 691, b: 687 }, midnight: 1, noon: 3, days: days2,
  oper: oper2, ctrl: ctrl2, mean: mean2, median: median2,
  members: [m2a, m2b, m2c, m2d, m2e, m2f, m2g, m2h, m2i, m2j, m2k, m2l],
  title: [13, 373], red: { l: 273, t: 357, r: 440, b: 383 }, redText: 'OUD',
  legend: [41, 396], source: [689, 386], made: 'Gemaakt: ma 20 jan 21:50'
});
makeChart({
  area: { l: 52, t: 854, r: 693, b: 1114 }, midnight: 3, noon: 1, days: days3,
  oper: oper3, ctrl: ctrl3, mean: mean3, median: median3,
  members: [m3a, m3b, m3c, m3d, m3e, m3f, m3g, m3h, m3i, m3j, m3k, m3l],
  title: [24, 827], red: { l: 245, t: 815, r: 410, b: 841 }, redText: 'NIEUW',
  legend: [51, 847], source: [691, 837], made: 'Gemaakt: di 21 jan 09:51'
});

// edges of the pasted screenshots
[[15, 3, 340], [706, 3, 340], [10, 352, 375], [698, 352, 376], [21, 813, 327], [700, 813, 325]]
  .forEach(v => addDiv('vline', `left:${v[0]}px;top:${v[1]}px;height:${v[2]}px;`));

// annotation boxes
const notes = [
  ['#FFFF00', 188, 593, 223, 684, 'Gelijk<br>gebleven'],
  ['#FFFF00', 237, 593, 273, 684, 'Gelijk<br>gebleven'],
  ['#00B0F0', 277, 599, 318, 684, 'Minder koud<br>maar meer<br>leden'],
  ['#00B0F0', 320, 599, 362, 684, 'Minder koud<br>maar meer<br>leden'],
  ['#FFC000', 368, 606, 395, 687, 'Minder<br>koud'],
  ['#FFC000', 417, 714, 444, 795, 'Minder<br>koud'],
  ['#FFC000', 457, 714, 483, 795, 'Minder<br>koud'],
  ['#00B0F0', 497, 709, 538, 795, 'Minder koud<br>maar meer<br>leden'],
  ['#00B050', 548, 709, 574, 790, 'KOUDER'],
  ['#FFC000', 591, 712, 618, 792, 'Minder<br>koud'],
  ['#FFC000', 172, 1140, 206, 1258, 'MINDER KOUDE<br>LEDEN', 'big'],
  ['#FFC000', 221, 1140, 256, 1258, 'MINDER KOUDE<br>LEDEN', 'big'],
  ['#FFC000', 263, 1140, 297, 1258, 'MINDER KOUDE<br>LEDEN', 'big'],
  ['#FFC000', 308, 1140, 342, 1258, '1 KOUD<br>LID !', 'big'],
  ['#FFC000', 353, 1140, 689, 1258, 'MINDER KOUD<br>EN HET AANTAL<br>LEDEN NEEMT<br>AF', 'big']
];
notes.forEach(n => addDiv('note' + (n[6] ? ' ' + n[6] : ''),
  `background:${n[0]};left:${n[1]}px;top:${n[2]}px;width:${n[3] - n[1]}px;height:${n[4] - n[2]}px;`,
  `<div>${n[5]}</div>`));
</script>
</body>
</html>
